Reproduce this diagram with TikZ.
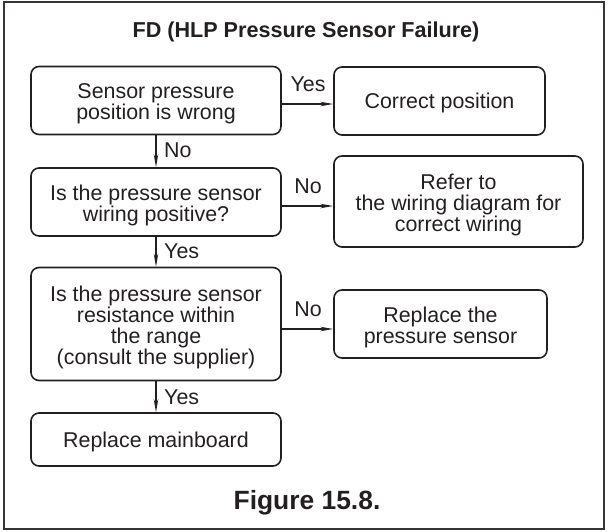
\documentclass[tikz,border=0pt]{standalone}
\usepackage{fontspec}
\setmainfont{Liberation Sans}
\usetikzlibrary{arrows.meta}
\definecolor{ink}{HTML}{231F20}
\tikzset{
  box/.style={draw=ink, line width=1.6pt, rounded corners=8pt, inner sep=0pt},
  txt/.style={text=ink, inner sep=0pt, align=center, font=\fontsize{21.4}{21.3}\selectfont},
  lbl/.style={text=ink, inner sep=0pt, font=\fontsize{21.4}{21.5}\selectfont},
  conn/.style={draw=ink, line width=1.1pt, -{Stealth[length=13pt,width=4.5pt]}},
}
\begin{document}
\begin{tikzpicture}[x=1pt,y=-1pt]
\useasboundingbox (0,0) rectangle (608,531);
\draw[draw=ink!90, line width=1.8pt] (4,2) rectangle (604,529);
\node[text=ink, font=\bfseries\fontsize{21.6}{22}\selectfont] (title) at (306,32) {FD (HLP Pressure Sensor Failure)};
% left column
\node[box, minimum width=250pt, minimum height=68pt] (b1) at (156,100.5) {};
\node[box, minimum width=250pt, minimum height=68pt] (b2) at (156,202) {};
\node[box, minimum width=250pt, minimum height=113pt] (b3) at (156,324) {};
\node[box, minimum width=250pt, minimum height=53pt] (b4) at (156,439.5) {};
\node[txt] (t1) at ([yshift=-3.5pt]b1.center) {Sensor pressure\\position is wrong};
\node[txt] (t2) at ([yshift=-3.5pt]b2.center) {Is the pressure sensor\\wiring positive?};
\node[txt] (t3) at ([yshift=-3.5pt]b3.center) {Is the pressure sensor\\resistance within\\the range\\(consult the supplier)};
\node[txt] (t4) at ([yshift=-2pt]b4.center) {Replace mainboard};
% right column
\node[box, minimum width=211pt, minimum height=68pt] (c1) at (439.5,101) {};
\node[box, minimum width=249pt, minimum height=91pt] (c2) at (458.5,201.5) {};
\node[box, minimum width=213pt, minimum height=68pt] (c3) at (440.5,324) {};
\node[txt] (u1) at ([yshift=-2pt]c1.center) {Correct position};
\node[txt] (u2) at ([yshift=-3.5pt]c2.center) {Refer to\\the wiring diagram for\\correct wiring};
\node[txt] (u3) at ([yshift=-3.5pt]c3.center) {Replace the\\pressure sensor};
% vertical connectors
\draw[conn] (b1.south) -- (b2.north);
\draw[conn] (b2.south) -- (b3.north);
\draw[conn] (b3.south) -- (b4.north);
\node[lbl, anchor=west] (n1) at (164,150) {No};
\node[lbl, anchor=west] (y1) at (164,251) {Yes};
\node[lbl, anchor=west] (y2) at (164,397) {Yes};
% horizontal connectors
\draw[conn] (b1.east |- 0,104) -- (c1.west |- 0,104);
\draw[conn] (b2.east |- 0,206) -- (c2.west |- 0,206);
\draw[conn] (b3.east |- 0,329) -- (c3.west |- 0,329);
\node[lbl] (y0) at (308,84) {Yes};
\node[lbl] (n2) at (308,186) {No};
\node[lbl] (n3) at (308,309) {No};
\node[text=ink, font=\bfseries\fontsize{26.4}{27}\selectfont] (cap) at (307,503) {Figure 15.8.};
\end{tikzpicture}
\end{document}
